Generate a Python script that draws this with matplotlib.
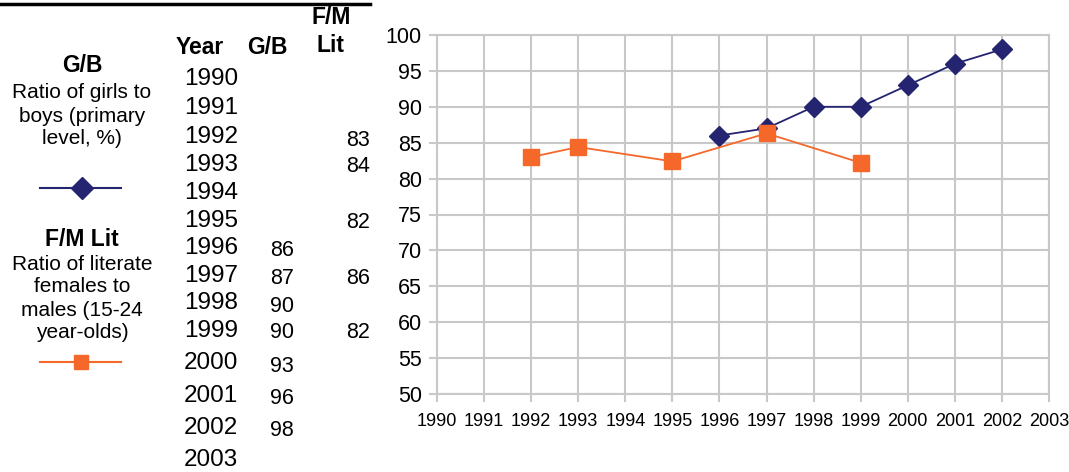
import matplotlib
matplotlib.use("Agg")
import matplotlib.pyplot as plt
from matplotlib.lines import Line2D

plt.rcParams["font.family"] = ["Liberation Sans", "DejaVu Sans"]

# ---- data ----
years = list(range(1990, 2004))
gb_years = [1996, 1997, 1998, 1999, 2000, 2001, 2002]
gb_values = [86, 87, 90, 90, 93, 96, 98]
fm_years = [1992, 1993, 1995, 1997, 1999]
fm_values = [83.0, 84.4, 82.4, 86.3, 82.2]
y_ticks = list(range(50, 101, 5))

NAVY = "#242470"
ORANGE = "#f5682a"
GRID = "#c8c8c8"

W, H = 1069, 472
fig = plt.figure(figsize=(W / 100, H / 100), dpi=100)


def fx(px):
    return px / W


def fy(py):
    return 1 - py / H


def txt(x, y, s, **kw):
    kw.setdefault("ha", "center")
    kw.setdefault("va", "center")
    kw.setdefault("fontsize", 15)
    kw.setdefault("color", "black")
    fig.text(fx(x), fy(y), s, **kw)


# ---- chart ----
ax = fig.add_axes([fx(437), fy(394), fx(1049) - fx(437), fy(35) - fy(394)])
ax.plot(gb_years, gb_values, color=NAVY, lw=1.3, marker="D", ms=10,
        markerfacecolor=NAVY, markeredgecolor=NAVY, zorder=3)
ax.plot(fm_years, fm_values, color=ORANGE, lw=1.3, marker="s", ms=11,
        markerfacecolor=ORANGE, markeredgecolor=ORANGE, zorder=4)
ax.set_xlim(1990, 2003)
ax.set_ylim(50, 100)
ax.set_xticks(years)
ax.set_yticks(y_ticks)
ax.set_xticklabels([str(y) for y in years], fontsize=13)
ax.set_yticklabels([str(v) for v in y_ticks], fontsize=15.5)
ax.grid(True, color=GRID, lw=1.5)
ax.set_axisbelow(True)
for s in ax.spines.values():
    s.set_color(GRID)
    s.set_linewidth(1.5)
ax.tick_params(axis="both", color=GRID, width=1.5, length=6, direction="out")
ax.tick_params(axis="x", pad=8)
ax.tick_params(axis="y", pad=5)

# ---- side table ----
fig.add_artist(Line2D([0, fx(370)], [fy(4), fy(4)], color="black", lw=2.5))

BOLD = 16.5
txt(331, 18, "F/M", fontweight="bold", fontsize=BOLD)
txt(331, 45, "Lit", fontweight="bold", fontsize=BOLD)
txt(200, 48, "Year", fontweight="bold", fontsize=BOLD)
txt(267, 48, "G/B", fontweight="bold", fontsize=BOLD)

row_y = [79, 108, 137, 165, 193, 221, 248, 276, 303, 331, 363, 396, 428, 460]
val_dy = [0, 0, 4, 1, 0, 1, 3, 3, 3, 2, 3, 3, 3, 0]
for yr, ry in zip(years, row_y):
    txt(184, ry, str(yr), ha="left", fontsize=17.5)

for yr, v in zip(gb_years, gb_values):
    i = years.index(yr)
    txt(282, row_y[i] + val_dy[i], f"{v:.0f}", fontsize=15.5)

for yr, v in zip(fm_years, fm_values):
    i = years.index(yr)
    txt(370, row_y[i] + val_dy[i], f"{v:.0f}", ha="right", fontsize=15.5)

# ---- legend block ----
txt(82, 66, "G/B", fontweight="bold", fontsize=BOLD)
for ly, s in zip([92, 116, 139], ["Ratio of girls to", "boys (primary", "level, %)"]):
    txt(82, ly, s)
fig.add_artist(Line2D([fx(40), fx(121)], [fy(188), fy(188)], color=NAVY, lw=1.5))
fig.add_artist(Line2D([fx(82)], [fy(188)], color=NAVY, marker="D", ms=11,
                      markeredgecolor=NAVY, lw=0))

txt(82, 240, "F/M Lit", fontweight="bold", fontsize=BOLD)
for ly, s in zip([264, 287, 310, 333],
                 ["Ratio of literate", "females to", "males (15-24", "year-olds)"]):
    txt(82, ly, s)
fig.add_artist(Line2D([fx(40), fx(121)], [fy(362), fy(362)], color=ORANGE, lw=1.5))
fig.add_artist(Line2D([fx(81)], [fy(362)], color=ORANGE, marker="s", ms=10,
                      markeredgecolor=ORANGE, lw=0))

fig.savefig("out.png", dpi=100)
